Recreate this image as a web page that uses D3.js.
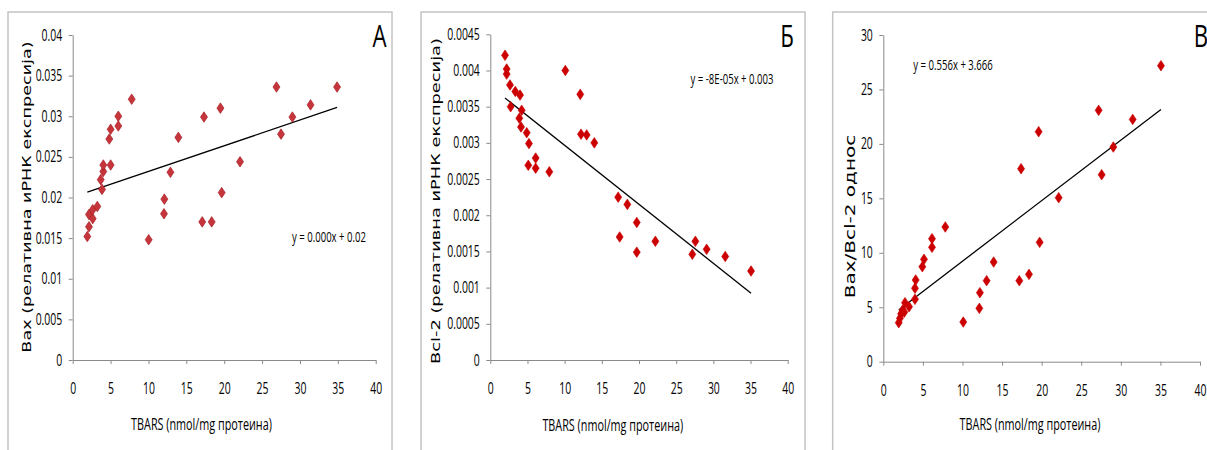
<!DOCTYPE html>
<html>
<head>
<meta charset="utf-8">
<script src="https://cdn.jsdelivr.net/npm/d3@7"></script>
<style>
  body { margin: 0; background: #fff; }
  svg { display: block; }
</style>
</head>
<body>
<svg id="chart" width="1207" height="450"></svg>
<script>
// ---- Data: TBARS vs. Bax, Bcl-2 and Bax/Bcl-2 ----
const tbarsA = [1.93, 2.15, 2.15, 2.64, 2.64, 3.25, 3.87, 3.7, 4.04, 4.04, 4.83, 5.01, 5.01, 6.02, 6.02, 7.79,
                10.03, 12.05, 12.1, 12.9, 13.95, 17.1, 17.33, 18.35, 19.5, 19.67, 22.09, 26.9, 27.5, 29.0, 31.4, 34.9];
const baxA   = [0.0152, 0.0164, 0.0179, 0.0174, 0.0185, 0.0189, 0.0210, 0.0222, 0.0232, 0.0240, 0.0272, 0.0284, 0.0240, 0.0300, 0.0288, 0.0321,
                0.0148, 0.0180, 0.0198, 0.0231, 0.0274, 0.0170, 0.0299, 0.0170, 0.0310, 0.0206, 0.0244, 0.0336, 0.0278, 0.0299, 0.0314, 0.0336];

const tbarsB = [1.98, 2.2, 2.2, 2.65, 3.36, 4.0, 2.74, 4.22, 3.9, 4.13, 4.9, 5.2, 5.11, 6.1, 6.1, 7.94,
                10.09, 12.1, 12.2, 12.96, 13.99, 17.2, 17.4, 18.43, 19.7, 19.7, 22.2, 27.17, 27.58, 29.1, 31.6, 35.07];
const bcl2B  = [0.00421, 0.00402, 0.00395, 0.00380, 0.00371, 0.00366, 0.00350, 0.00345, 0.00334, 0.00322, 0.00314, 0.00299, 0.00269, 0.00279, 0.00265, 0.00260,
                0.00400, 0.00367, 0.00312, 0.00311, 0.00300, 0.00225, 0.00170, 0.00215, 0.00190, 0.00149, 0.00164, 0.00146, 0.00164, 0.00153, 0.00143, 0.00123];

const tbarsC = [1.95, 2.1, 2.25, 2.45, 2.65, 2.74, 3.25, 4.0, 4.0, 4.09, 4.93, 5.14, 6.15, 6.15, 7.83,
                10.1, 12.13, 12.2, 13.05, 13.94, 17.18, 17.4, 18.4, 19.62, 19.75, 22.15, 27.2, 27.58, 29.05, 31.5, 35.07];
const ratioC = [3.58, 3.98, 4.4, 4.75, 4.55, 5.42, 5.05, 5.73, 6.74, 7.5, 8.72, 9.4, 10.5, 11.3, 12.37,
                3.64, 4.9, 6.34, 7.44, 9.15, 7.44, 17.72, 8.02, 21.12, 10.96, 15.06, 23.08, 17.17, 19.71, 22.25, 27.18];

// linear trend lines: [slope, intercept]
const fitA = [0.000316, 0.02005];
const fitB = [-0.0000815, 0.003781];
const fitC = [0.556, 3.666];

const eqA = "y = 0.000x + 0.02";
const eqB = "y = -8E-05x + 0.003";
const eqC = "y = 0.556x + 3.666";

const xTicks  = [0, 5, 10, 15, 20, 25, 30, 35, 40];
const yTicksA = [0, 0.005, 0.01, 0.015, 0.02, 0.025, 0.03, 0.035, 0.04];
const yTicksB = [0, 0.0005, 0.001, 0.0015, 0.002, 0.0025, 0.003, 0.0035, 0.004, 0.0045];
const yTicksC = [0, 5, 10, 15, 20, 25, 30];

const xTitle = "TBARS (nmol/mg протеина)";
const yTitleA = "Bax (релативна иРНК експресија)";
const yTitleB = "Bcl-2 (релативна иРНК експресија)";
const yTitleC = "Bax/Bcl-2 однос";

// ---- Layout ----
const SANS = "'Open Sans', 'Noto Sans', sans-serif";
const WIDE = "'DejaVu Sans', Verdana, sans-serif";
const SQ = 0.66;            // horizontal squeeze of the narrow label face

const panels = [
  { frame: [8, 392], plotX: [72.7, 375.7], plotY: [360, 35], yMax: 0.04, yTicks: yTicksA,
    xs: tbarsA, ys: baxA, fit: fitA, eq: eqA, eqPos: [329, 242], letter: "A", letterX: 379.5,
    yTitle: yTitleA, yTitlePos: [27, 197], yTitleSize: 17.6, xTitlePos: [201.5, 430],
    fill: "#c6353c", stroke: "#a31a1f" },
  { frame: [421, 805], plotX: [490.3, 787.7], plotY: [360, 34.3], yMax: 0.0045, yTicks: yTicksB,
    xs: tbarsB, ys: bcl2B, fit: fitB, eq: eqB, eqPos: [732, 84], letter: "Б", letterX: 787,
    yTitle: yTitleB, yTitlePos: [436, 201], yTitleSize: 17.8, xTitlePos: [612.8, 431],
    fill: "#cc0000", stroke: "#cc0000" },
  { frame: [832.7, 1240], plotX: [883.3, 1200], plotY: [361.7, 35], yMax: 30, yTicks: yTicksC,
    xs: tbarsC, ys: ratioC, fit: fitC, eq: eqC, eqPos: [953, 70], letter: "В", letterX: 1201,
    yTitle: yTitleC, yTitlePos: [850, 216.5], yTitleSize: 20, xTitlePos: [1030, 430],
    fill: "#cc0000", stroke: "#cc0000" }
];

const svg = d3.select("#chart");

function squeezeText(sel) {
  sel.each(function () {
    const t = d3.select(this);
    const x = +t.attr("x") || 0, y = +t.attr("y") || 0;
    t.attr("x", 0).attr("y", 0).attr("transform", `translate(${x},${y}) scale(${SQ},1)`);
  });
}

const fmt = d => d === 0 ? "0" : String(+d.toFixed(5));

panels.forEach(p => {
  const g = svg.append("g");

  // outer frame of the panel
  g.append("rect")
    .attr("x", p.frame[0]).attr("y", 12)
    .attr("width", p.frame[1] - p.frame[0]).attr("height", 470)
    .attr("fill", "none").attr("stroke", "#c4c4c4").attr("stroke-width", 1.5);

  const x = d3.scaleLinear().domain([0, 40]).range(p.plotX);
  const y = d3.scaleLinear().domain([0, p.yMax]).range(p.plotY);

  // y axis
  const ya = g.append("g").attr("transform", `translate(${p.plotX[0]},0)`)
    .call(d3.axisLeft(y).tickValues(p.yTicks).tickFormat(fmt).tickSize(4).tickPadding(6.5).tickSizeOuter(0));
  // x axis
  const xa = g.append("g").attr("transform", `translate(0,${p.plotY[0]})`)
    .call(d3.axisBottom(x).tickValues(xTicks).tickFormat(d3.format("d")).tickSize(4).tickPadding(19).tickSizeOuter(0));

  [ya, xa].forEach(a => {
    a.select(".domain").attr("stroke", "#8a8a8a").attr("stroke-width", 1);
    a.selectAll(".tick line").attr("stroke", "#8a8a8a");
    a.selectAll("text").attr("font-family", SANS).attr("font-size", 15.8).attr("fill", "#000")
      .call(squeezeText);
  });

  // trend line over the data range
  const [lo, hi] = d3.extent(p.xs);
  g.append("line")
    .attr("x1", x(lo)).attr("y1", y(p.fit[0] * lo + p.fit[1]))
    .attr("x2", x(hi)).attr("y2", y(p.fit[0] * hi + p.fit[1]))
    .attr("stroke", "#000").attr("stroke-width", 1.3);

  // diamond markers
  const diamond = d3.symbol(d3.symbolDiamond, 32);
  g.append("g").selectAll("path")
    .data(p.xs.map((v, i) => [v, p.ys[i]]))
    .join("path")
    .attr("d", diamond)
    .attr("transform", d => `translate(${x(d[0])},${y(d[1])}) scale(1.15,1)`)
    .attr("fill", p.fill).attr("stroke", p.stroke).attr("stroke-width", 0.6);

  // regression equation
  g.append("text")
    .attr("transform", `translate(${p.eqPos[0]},${p.eqPos[1]}) scale(${SQ},1)`)
    .attr("text-anchor", "middle").attr("font-family", SANS).attr("font-size", 14.5).attr("fill", "#000")
    .text(p.eq);

  // panel letter
  g.append("text")
    .attr("transform", `translate(${p.letterX},46.5) scale(0.72,1)`)
    .attr("text-anchor", "middle").attr("font-family", SANS).attr("font-size", 31).attr("fill", "#000")
    .text(p.letter);

  // axis titles
  g.append("text")
    .attr("transform", `translate(${p.xTitlePos[0]},${p.xTitlePos[1]}) scale(${SQ},1)`)
    .attr("text-anchor", "middle").attr("font-family", SANS).attr("font-size", 16.4).attr("fill", "#000")
    .text(xTitle);

  g.append("text")
    .attr("transform", `translate(${p.yTitlePos[0]},${p.yTitlePos[1]}) scale(0.7,1) rotate(-90)`)
    .attr("text-anchor", "middle").attr("dy", "0.36em")
    .attr("font-family", WIDE).attr("font-size", p.yTitleSize).attr("fill", "#000")
    .text(p.yTitle);
});
</script>
</body>
</html>
